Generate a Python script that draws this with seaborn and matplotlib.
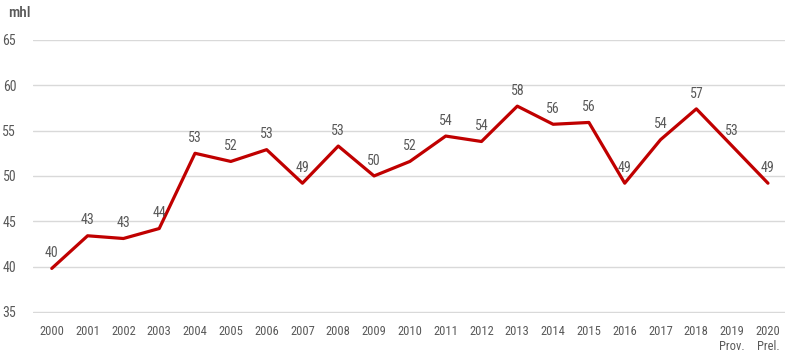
import seaborn as sns
import matplotlib.pyplot as plt
import pandas as pd

years = ["2000", "2001", "2002", "2003", "2004", "2005", "2006", "2007", "2008", "2009", "2010",
         "2011", "2012", "2013", "2014", "2015", "2016", "2017", "2018", "2019\nProv.", "2020\nPrel."]
values = [39.8, 43.4, 43.1, 44.2, 52.5, 51.6, 52.9, 49.2, 53.3, 50.0, 51.6,
          54.4, 53.8, 57.7, 55.7, 55.9, 49.2, 54.0, 57.4, 53.3, 49.2]
labels = [40, 43, 43, 44, 53, 52, 53, 49, 53, 50, 52, 54, 54, 58, 56, 56, 49, 54, 57, 53, 49]

sns.set_style("white")
plt.rcParams['font.family'] = ['Roboto Condensed', 'DejaVu Sans']
grey = "#595959"

df = pd.DataFrame({"x": range(len(years)), "v": values})

fig = plt.figure(figsize=(8, 3.6), dpi=100)
ax = fig.add_axes([0.041, 0.131, 0.94, 0.758])
sns.lineplot(data=df, x="x", y="v", color="#C00000", linewidth=2.3, ax=ax, zorder=3)

for i, (v, l) in enumerate(zip(values, labels)):
    ax.annotate(str(l), (i, v), xytext=(0, 6), textcoords="offset points",
                ha="center", va="bottom", fontsize=10, color=grey)

ax.set_xlim(-0.53, 20.47)
ax.set_ylim(34.9, 65)
ax.set_yticks([35, 40, 45, 50, 55, 60, 65])
ax.set_xticks(range(len(years)))
ax.set_xticklabels(years, fontsize=9, color=grey, linespacing=1.15)
ax.tick_params(axis="y", labelsize=10, labelcolor=grey, length=0, pad=12)
ax.tick_params(axis="x", length=0, pad=9)
ax.yaxis.grid(True, color="#d9d9d9", linewidth=1)
ax.set_xlabel("")
ax.set_ylabel("")
for s in ax.spines.values():
    s.set_visible(False)
fig.text(0.01, 0.965, "mhl", fontsize=11, color=grey, fontweight="medium", va="center")

fig.savefig("out.png", dpi=100)
